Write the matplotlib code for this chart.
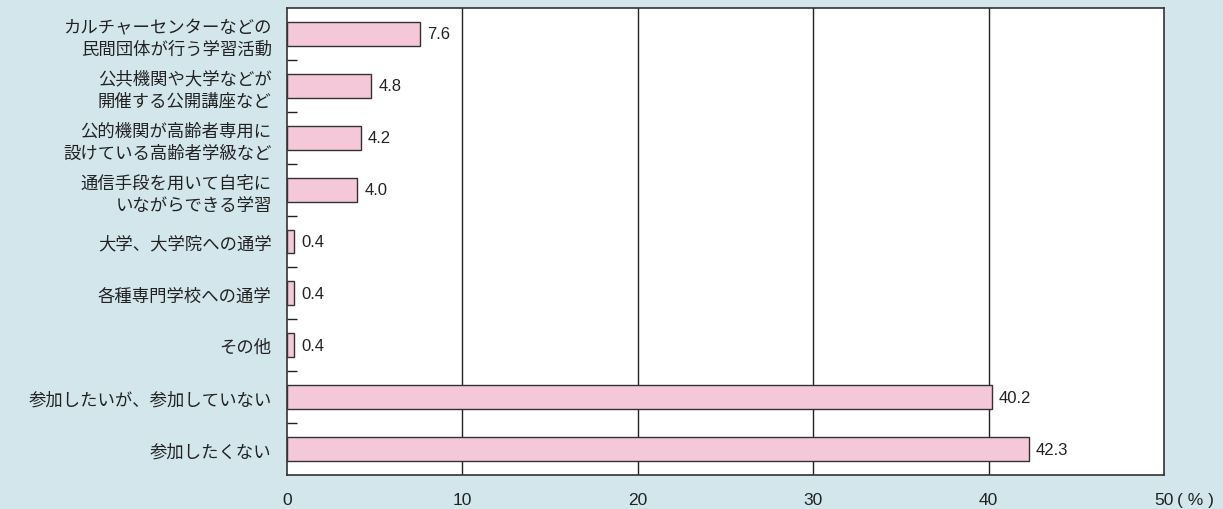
import matplotlib
matplotlib.use("Agg")
import matplotlib.pyplot as plt
import numpy as np

plt.rcParams['font.family'] = ['Noto Sans CJK JP', 'DejaVu Sans']

categories = [
    "カルチャーセンターなどの\n民間団体が行う学習活動",
    "公共機関や大学などが\n開催する公開講座など",
    "公的機関が高齢者専用に\n設けている高齢者学級など",
    "通信手段を用いて自宅に\nいながらできる学習",
    "大学、大学院への通学",
    "各種専門学校への通学",
    "その他",
    "参加したいが、参加していない",
    "参加したくない",
]
values = [7.6, 4.8, 4.2, 4.0, 0.4, 0.4, 0.4, 40.2, 42.3]
xticks = [0, 10, 20, 30, 40, 50]

bg = "#d3e6ec"
bar_color = "#f4c8d8"
edge = "#333333"
num_font = ['Liberation Sans', 'DejaVu Sans']

fig = plt.figure(figsize=(12.23, 5.10), dpi=100, facecolor=bg)
ax = fig.add_axes([287 / 1223, 1 - 476 / 510, 877 / 1223, 467 / 510])
ax.set_facecolor("white")

y = np.arange(len(values))
ax.barh(y, values, height=0.46, color=bar_color, edgecolor=edge, linewidth=1.0, zorder=3)

for yi, v in zip(y, values):
    ax.text(v + 0.4, yi, f"{v:.1f}", va="center", ha="left", fontsize=12,
            family=num_font, color="#222222", zorder=4)

ax.set_xlim(0, 50)
ax.set_ylim(len(values) - 0.5, -0.5)

for xv in xticks[1:-1]:
    ax.axvline(xv, color="#222222", linewidth=1.0, zorder=1)

ax.set_xticks(xticks)
ax.set_xticklabels([str(t) for t in xticks], fontsize=12.5,
                   family=num_font, color="#222222")
ax.tick_params(axis="x", length=0, pad=12)
ax.text(50.75, -0.052, "( % )", fontsize=12.5, ha="left", va="center",
        family=num_font, color="#222222", transform=ax.get_xaxis_transform())

ax.set_yticks(y)
ax.set_yticklabels(categories, fontsize=12.5, color="#222222", linespacing=1.3,
                   ha="right")
ax.tick_params(axis="y", length=0, pad=11)
ax.set_yticks(np.arange(0.5, len(values) - 1, 1.0), minor=True)
ax.tick_params(axis="y", which="minor", direction="in", length=7, width=1.0,
               color="#222222")

for s in ax.spines.values():
    s.set_color("#333333")
    s.set_linewidth(1.2)

fig.savefig("out.png", dpi=100, facecolor=bg)
